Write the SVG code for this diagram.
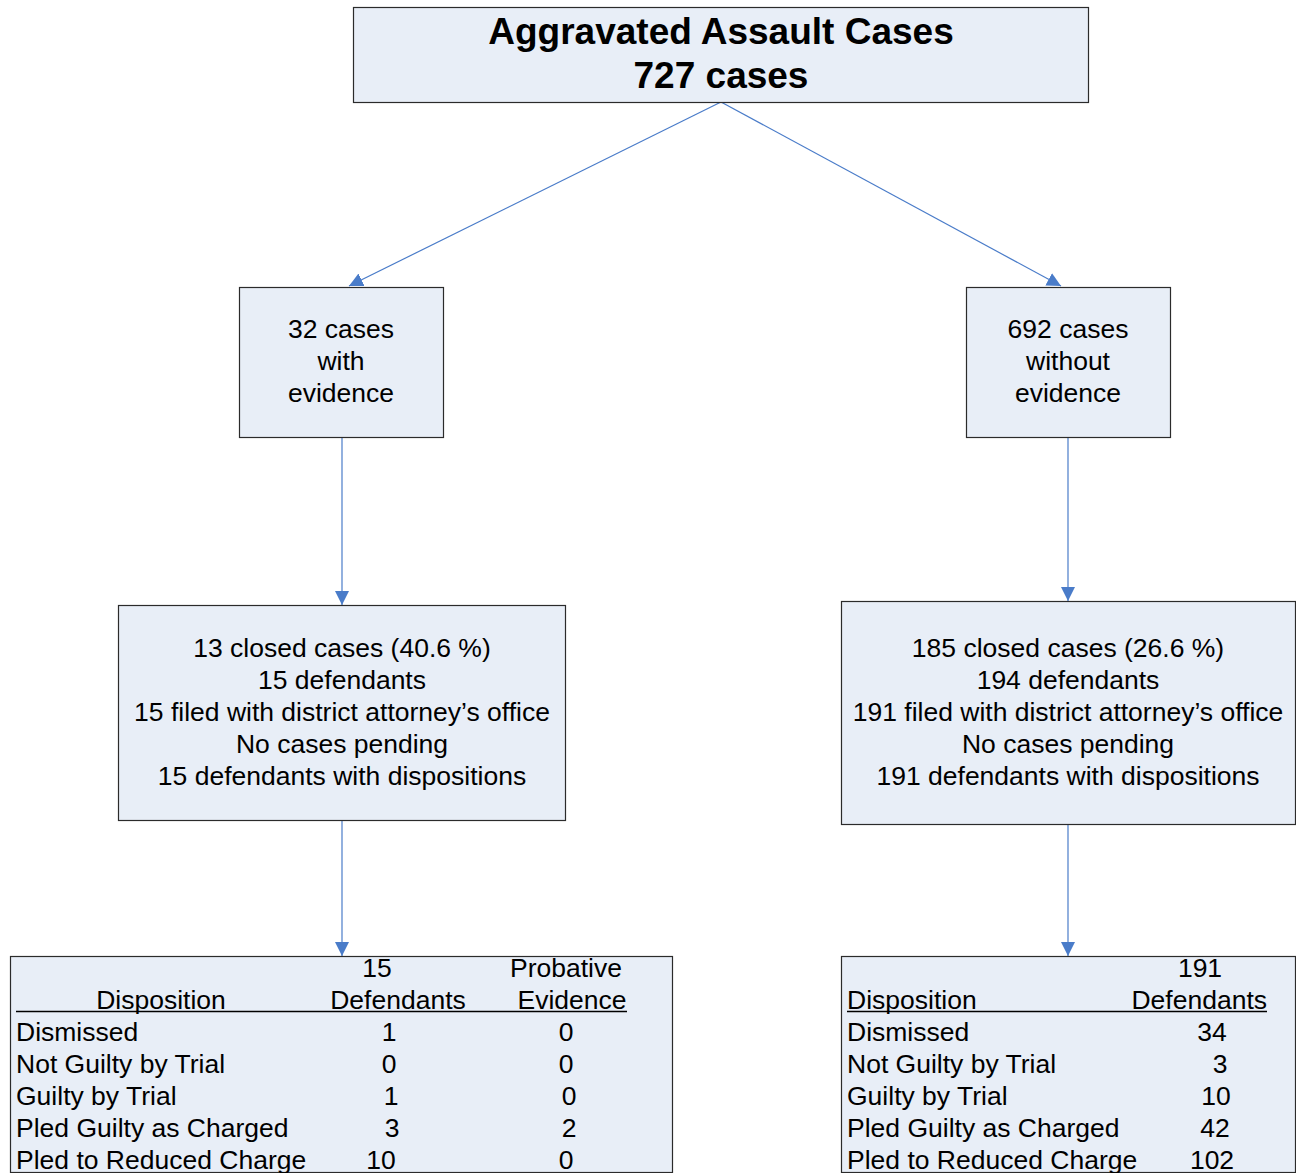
<svg xmlns="http://www.w3.org/2000/svg" width="1296" height="1173" viewBox="0 0 1296 1173">
  <style>
    .box { fill: #E8EEF7; stroke: #2b2b2b; stroke-width: 1.2; }
    .t { font-family: "Liberation Sans", Arial, sans-serif; font-size: 26.5px; fill: #000; }
    .c { text-anchor: middle; }
    .title { font-family: "Liberation Sans", Arial, sans-serif; font-size: 37px; font-weight: bold; text-anchor: middle; fill: #000; }
    .link { stroke: #4a7cc9; stroke-width: 1.2; fill: none; marker-end: url(#arrow); }
    .rule { stroke: #000; stroke-width: 1.5; }
  </style>
  <defs>
    <marker id="arrow" viewBox="0 0 14 14" refX="14" refY="7" markerWidth="14" markerHeight="14" markerUnits="userSpaceOnUse" orient="auto">
      <path d="M0,0 L14,7 L0,14 Z" fill="#4a7cc9"/>
    </marker>
  </defs>

  <rect width="1296" height="1173" fill="#fff"/>

  <!-- connectors -->
  <g id="connectors">
    <line class="link" x1="721" y1="102" x2="349" y2="286"/>
    <line class="link" x1="721" y1="102" x2="1061" y2="286"/>
    <line class="link" x1="342" y1="437" x2="342" y2="605"/>
    <line class="link" x1="1068" y1="437" x2="1068" y2="601"/>
    <line class="link" x1="342" y1="821" x2="342" y2="956"/>
    <line class="link" x1="1068" y1="825" x2="1068" y2="956"/>
  </g>

  <!-- root -->
  <g id="root">
    <rect class="box" x="353.5" y="7.5" width="735" height="95"/>
    <text class="title" x="721" y="44">Aggravated Assault Cases</text>
    <text class="title" x="721" y="88">727 cases</text>
  </g>

  <!-- cases with evidence -->
  <g id="with-evidence">
    <rect class="box" x="239.5" y="287.5" width="204" height="150"/>
    <text class="t c" x="341" y="338">32 cases</text>
    <text class="t c" x="341" y="370">with</text>
    <text class="t c" x="341" y="402">evidence</text>
  </g>

  <!-- cases without evidence -->
  <g id="without-evidence">
    <rect class="box" x="966.5" y="287.5" width="204" height="150"/>
    <text class="t c" x="1068" y="338">692 cases</text>
    <text class="t c" x="1068" y="370">without</text>
    <text class="t c" x="1068" y="402">evidence</text>
  </g>

  <!-- closed cases, with evidence -->
  <g id="closed-with">
    <rect class="box" x="118.5" y="605.5" width="447" height="215"/>
    <text class="t c" x="342" y="657">13 closed cases (40.6 %)</text>
    <text class="t c" x="342" y="689">15 defendants</text>
    <text class="t c" x="342" y="721">15 filed with district attorney’s office</text>
    <text class="t c" x="342" y="753">No cases pending</text>
    <text class="t c" x="342" y="785">15 defendants with dispositions</text>
  </g>

  <!-- closed cases, without evidence -->
  <g id="closed-without">
    <rect class="box" x="841.5" y="601.5" width="454" height="223"/>
    <text class="t c" x="1068" y="657">185 closed cases (26.6 %)</text>
    <text class="t c" x="1068" y="689">194 defendants</text>
    <text class="t c" x="1068" y="721">191 filed with district attorney’s office</text>
    <text class="t c" x="1068" y="753">No cases pending</text>
    <text class="t c" x="1068" y="785">191 defendants with dispositions</text>
  </g>

  <!-- disposition table, with evidence -->
  <g id="table-with">
    <rect class="box" x="10.5" y="956.5" width="662" height="216"/>
    <text class="t c" x="377" y="977">15</text>
    <text class="t c" x="566" y="977">Probative</text>
    <text class="t c" x="161" y="1009">Disposition</text>
    <text class="t c" x="398" y="1009">Defendants</text>
    <text class="t c" x="572" y="1009">Evidence</text>
    <line class="rule" x1="16" y1="1011.5" x2="627" y2="1011.5"/>
    <text class="t" x="16" y="1041">Dismissed</text>
    <text class="t c" x="389" y="1041">1</text>
    <text class="t c" x="566" y="1041">0</text>
    <text class="t" x="16" y="1073">Not Guilty by Trial</text>
    <text class="t c" x="389" y="1073">0</text>
    <text class="t c" x="566" y="1073">0</text>
    <text class="t" x="16" y="1105">Guilty by Trial</text>
    <text class="t c" x="391" y="1105">1</text>
    <text class="t c" x="569" y="1105">0</text>
    <text class="t" x="16" y="1137">Pled Guilty as Charged</text>
    <text class="t c" x="392" y="1137">3</text>
    <text class="t c" x="569" y="1137">2</text>
    <text class="t" x="16" y="1169">Pled to Reduced Charge</text>
    <text class="t c" x="381" y="1169">10</text>
    <text class="t c" x="566" y="1169">0</text>
  </g>

  <!-- disposition table, without evidence -->
  <g id="table-without">
    <rect class="box" x="841.5" y="956.5" width="454" height="216"/>
    <text class="t c" x="1200" y="977">191</text>
    <text class="t" x="847" y="1009">Disposition</text>
    <text class="t" x="1267" y="1009" text-anchor="end">Defendants</text>
    <line class="rule" x1="847" y1="1011.5" x2="1267" y2="1011.5"/>
    <text class="t" x="847" y="1041">Dismissed</text>
    <text class="t c" x="1212" y="1041">34</text>
    <text class="t" x="847" y="1073">Not Guilty by Trial</text>
    <text class="t c" x="1220" y="1073">3</text>
    <text class="t" x="847" y="1105">Guilty by Trial</text>
    <text class="t c" x="1216" y="1105">10</text>
    <text class="t" x="847" y="1137">Pled Guilty as Charged</text>
    <text class="t c" x="1215" y="1137">42</text>
    <text class="t" x="847" y="1169">Pled to Reduced Charge</text>
    <text class="t c" x="1212" y="1169">102</text>
  </g>
</svg>
